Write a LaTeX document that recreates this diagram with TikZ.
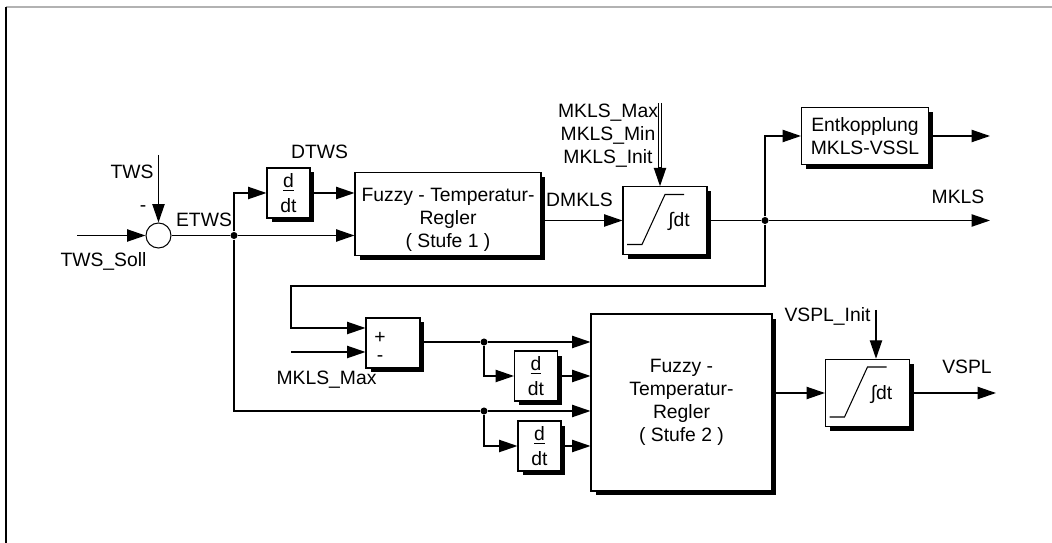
\documentclass[tikz,border=0pt]{standalone}
\usepackage{fontspec}
\setmainfont{Liberation Sans}
\usetikzlibrary{arrows.meta,calc,shadows}

\begin{document}
\begin{tikzpicture}[x=0.02cm, y=-0.02cm,
    font=\fontsize{11}{13}\selectfont,
    line width=0.8pt,
    >={Triangle[length=10.5pt,width=7pt]},
    block/.style={draw, line width=0.6pt, fill=white, inner sep=0pt,
      drop shadow={shadow xshift=0.09cm, shadow yshift=-0.09cm,
                   fill=black, opacity=1}},
    ddtbox/.style={block, minimum width=0.86cm, minimum height=1cm,
                   align=center},
    integbox/.style={block, minimum width=1.68cm, minimum height=1.35cm},
    jdot/.style={circle, fill, inner sep=0pt, minimum size=4pt}]
    \useasboundingbox (0,0) rectangle (1052,543);

    % Rahmen
    \draw[gray!60, line width=1.2pt] (6,7) -- (1052,7);
    \draw[line width=1.2pt] (6,7) -- (6,543);

    % Summierstelle
    \node[circle, draw, line width=0.6pt, minimum size=0.5cm,
          inner sep=0pt] (sum) at (158.5,235.5) {};
    \coordinate (soll) at (77,235.5);
    \coordinate (tws) at (158.5,155);
    \draw[->] (soll) -- (sum);
    \draw[->] (tws) -- (sum);
    \node (lSoll) at (103.5,261) {TWS\_Soll};
    \node (lTws) at (132,172) {TWS};
    \node (lMinus) at (143,209) {-};
    \node (lEtws) at (204,220) {ETWS};

    % Stufe 1
    \node[jdot] (jA) at (234,235.5) {};
    \node[ddtbox] (dA) at (288.5,193) {\underline{d}\\[1pt]dt};
    \node (lDtws) at (319.5,152) {DTWS};
    \node[block, minimum width=3.72cm, minimum height=1.65cm]
         (fuzA) at (448,214) {};
    \node[align=center] (tFuzA) at (448,220)
         {Fuzzy - Temperatur-\\Regler\\( Stufe 1 )};
    \draw[->] (sum) -- (jA) -- (jA -| fuzA.west);
    \draw[->] (jA) |- (dA);
    \draw[->] (dA) -- (dA -| fuzA.west);

    % Integrator MKLS
    \node[integbox] (intA) at (665,220.5) {};
    \draw[->] (fuzA.east |- intA) -- (intA);
    \node (lDmkls) at (579.5,200) {DMKLS};
    \coordinate (mklsIn) at (660,103);
    \draw[double, double distance=0.9pt, line width=0.5pt]
         (mklsIn) -- ($(mklsIn |- intA.north)+(0,-17)$);
    \draw[->] ($(mklsIn |- intA.north)+(0,-19)$) -- (mklsIn |- intA.north);
    \node[align=center] (lMkls) at (608,136)
         {MKLS\_Max\\MKLS\_Min\\MKLS\_Init};

    % Ausgang MKLS
    \node[jdot] (jB) at (765,220.5) {};
    \coordinate (mklsOut) at (990,220.5);
    \draw[->] (intA) -- (jB) -- (mklsOut);
    \node (lMklsOut) at (958,196.5) {MKLS};
    \node[block, minimum width=2.54cm, minimum height=1.14cm,
          align=center] (entk) at (865,136) {Entkopplung\\MKLS-VSSL};
    \coordinate (entkOut) at (990,136);
    \draw[->] (jB) |- (entk);
    \draw[->] (entk) -- (entkOut);

    % Differenz MKLS - MKLS_Max
    \node[block, minimum width=1.08cm, minimum height=1cm]
         (pm) at (393,343) {};
    \node[align=center, inner sep=0pt] (pmSign) at (380,347) {+\\[-3pt]-};
    \coordinate (fbA) at (291,286);
    \coordinate (fbB) at (291,328);
    \coordinate (maxIn) at (291,352);
    \draw[->] (jB) |- (fbA) -- (fbB) -- (fbB -| pm.west);
    \draw[->] (maxIn) -- (maxIn -| pm.west);
    \node (lMax) at (326.5,380) {MKLS\_Max};

    % Stufe 2
    \node[block, minimum width=3.62cm, minimum height=3.54cm,
          align=center] (fuzB) at (681.5,402.5)
         {Fuzzy -\\Temperatur-\\Regler\\( Stufe 2 )};
    \node[jdot] (jC) at (484,342) {};
    \node[ddtbox] (dB) at (536,376) {\underline{d}\\[1pt]dt};
    \draw[->] (pm.east |- jC) -- (jC) -- (jC -| fuzB.west);
    \draw[->] (jC) |- (dB);
    \draw[->] (dB) -- (dB -| fuzB.west);
    \coordinate (etwsB) at (234,411);
    \node[jdot] (jD) at (484,411) {};
    \node[ddtbox] (dC) at (539.5,446) {\underline{d}\\[1pt]dt};
    \draw[->] (jA) -- (etwsB) -- (jD) -- (jD -| fuzB.west);
    \draw[->] (jD) |- (dC);
    \draw[->] (dC) -- (dC -| fuzB.west);

    % Integrator VSPL
    \node[integbox] (intB) at (867.5,393) {};
    \draw[->] (fuzB.east |- intB) -- (intB);
    \coordinate (vsplIn) at (876,310);
    \draw[->] (vsplIn) -- (vsplIn |- intB.north);
    \node (lVsplIn) at (827.5,316) {VSPL\_Init};
    \coordinate (vsplOut) at (996,393);
    \draw[->] (intB) -- (vsplOut);
    \node (lVspl) at (967,367) {VSPL};

    % Begrenzung und Integral
    \foreach \n in {intA, intB} {
      \draw[line width=0.6pt] ($(\n.center)+(-38,24)$) -- ++(15,0)
           -- ($(\n.center)+(0,-26)$) -- ++(19,0);
      \node at ($(\n.center)+(14,1)$) {∫dt};
    }
  \end{tikzpicture}
\end{document}
